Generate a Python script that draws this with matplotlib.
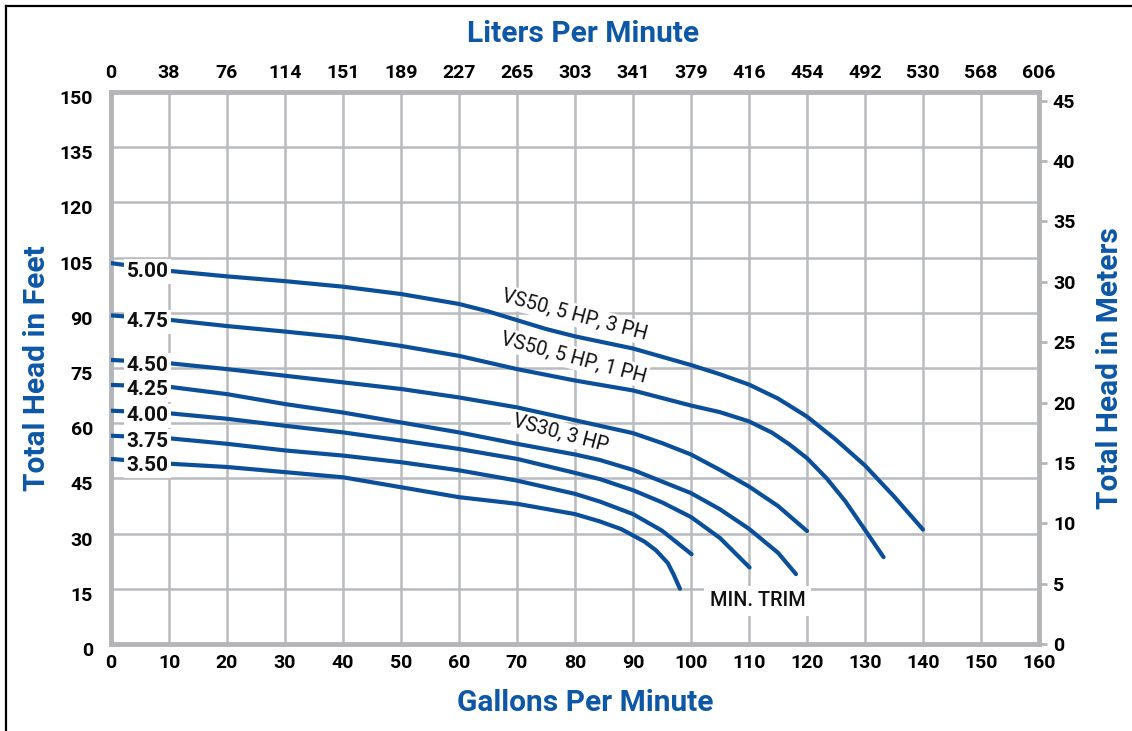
import matplotlib.pyplot as plt
import matplotlib.transforms as mtransforms
from matplotlib.lines import Line2D
import numpy as np

plt.rcParams['font.family'] = ['Roboto', 'DejaVu Sans']

# impeller trim curves, gpm vs total head (ft)
gpm_500 = [0, 10, 20, 30, 40, 50, 60, 65, 70, 75, 80, 90, 100, 105, 110, 115, 120, 125, 130, 135, 140]
head_500 = [103.5, 101.4, 99.9, 98.6, 97.1, 95.1, 92.4, 90.4, 88.0, 85.6, 83.6, 80.3, 75.8, 73.3, 70.5, 66.7, 61.8, 55.5, 48.5, 40.1, 31.1]

gpm_475 = [0, 10, 20, 30, 40, 50, 60, 70, 80, 90, 100, 105, 110, 114, 117, 120, 123.4, 126.6, 130, 133.2]
head_475 = [89.3, 88.1, 86.4, 84.9, 83.3, 81.0, 78.3, 74.7, 71.6, 68.9, 64.8, 63.0, 60.5, 57.4, 54.2, 50.5, 45.0, 38.8, 31.0, 23.6]

gpm_450 = [0, 10, 20, 30, 40, 50, 60, 70, 80, 90, 95, 100, 105, 110, 115, 120]
head_450 = [77.2, 76.3, 74.7, 72.9, 71.1, 69.3, 67.0, 64.3, 60.8, 57.3, 54.6, 51.5, 47.3, 42.8, 37.5, 30.7]

gpm_425 = [0, 10, 20, 30, 40, 50, 60, 70, 80, 84.3, 90, 100, 105, 110, 115, 118.1]
head_425 = [70.4, 69.9, 67.9, 65.2, 62.9, 60.2, 57.5, 54.4, 51.5, 50.0, 47.3, 41.0, 36.6, 31.3, 24.8, 19.0]

gpm_400 = [0, 10, 20, 30, 40, 50, 60, 70, 80, 84.3, 90, 95, 100, 105, 110.1]
head_400 = [63.4, 62.7, 61.2, 59.3, 57.5, 55.3, 53.0, 50.3, 46.5, 44.8, 41.8, 38.5, 34.5, 28.8, 20.8]

gpm_375 = [0, 10, 20, 30, 40, 50, 60, 70, 80, 84.3, 90, 95, 100.1]
head_375 = [56.6, 55.9, 54.4, 52.6, 51.2, 49.4, 47.2, 44.4, 40.8, 38.7, 35.3, 30.8, 24.4]

gpm_350 = [0, 10, 20, 30, 40, 50, 60, 70, 80, 84.3, 88, 92, 94, 96, 97, 98.1]
head_350 = [50.3, 49.0, 48.1, 46.7, 45.3, 42.6, 39.9, 38.1, 35.3, 33.3, 31.2, 27.8, 25.4, 22.0, 18.9, 15.0]

trim_labels = ['5.00', '4.75', '4.50', '4.25', '4.00', '3.75', '3.50']
curves = [(gpm_500, head_500), (gpm_475, head_475), (gpm_450, head_450),
          (gpm_425, head_425), (gpm_400, head_400), (gpm_375, head_375),
          (gpm_350, head_350)]

gpm_ticks = list(range(0, 161, 10))
lpm_labels = ['0', '38', '76', '114', '151', '189', '227', '265', '303', '341',
              '379', '416', '454', '492', '530', '568', '606']
feet_ticks = list(range(0, 151, 15))
meter_ticks = list(range(0, 46, 5))

model_labels = ['VS50, 5 HP, 3 PH', 'VS50, 5 HP, 1 PH', 'VS30, 3 HP']
model_pos = [(80.0, 89.4), (79.7, 77.8), (77.6, 57.2)]

blue = '#0b4f9a'
title_blue = '#0d57a6'
grid_gray = '#b9bbbe'

W, H = 1132, 731
fig = plt.figure(figsize=(W / 100, H / 100), dpi=100)
ax = fig.add_axes([111 / W, 87 / H, 928 / W, 552 / H])

for (x, y) in curves:
    ax.plot(x, y, color=blue, lw=3.0, solid_capstyle='round', solid_joinstyle='round', zorder=3)

for lab, (x, y) in zip(trim_labels, curves):
    ly = np.interp(6.3, x, y) - 1.0
    ax.text(6.3, ly, lab, ha='center', va='center', fontsize=15, fontweight='bold',
            color='#111111', zorder=5,
            bbox=dict(facecolor='white', edgecolor='none', pad=2))

for lab, (px, py) in zip(model_labels, model_pos):
    ax.text(px, py, lab, ha='center', va='center', rotation=-15, rotation_mode='anchor',
            fontsize=14.3, color='#111111', zorder=5,
            bbox=dict(facecolor='white', edgecolor='none', pad=1.5))

ax.text(111.5, 11.7, 'MIN. TRIM', ha='center', va='center', fontsize=14.3, fontweight='medium',
        color='#111111', zorder=5,
        bbox=dict(facecolor='white', edgecolor='none', pad=4))

ax.set_xlim(0, 160)
ax.set_ylim(0, 150)
ax.set_xticks(gpm_ticks)
ax.set_yticks(feet_ticks)
ax.grid(True, color=grid_gray, lw=1.8, zorder=1)
ax.set_axisbelow(True)
for s in ax.spines.values():
    s.set_color('#b3b5b8')
    s.set_linewidth(3.5)
ax.tick_params(axis='x', length=0, pad=7, labelsize=14)
ax.tick_params(axis='y', length=0, pad=13, labelsize=14)
for t in ax.get_xticklabels() + ax.get_yticklabels():
    t.set_fontweight('bold')
# left labels sit a bit under the gridline
off = mtransforms.ScaledTranslation(0, -0.05, fig.dpi_scale_trans)
for t in ax.get_yticklabels():
    t.set_transform(t.get_transform() + off)

# top axis: liters per minute
axt = ax.twiny()
axt.set_xlim(0, 160)
axt.set_xticks(gpm_ticks)
axt.set_xticklabels(lpm_labels)
axt.tick_params(axis='x', length=0, pad=7, labelsize=14)
for t in axt.get_xticklabels():
    t.set_fontweight('bold')

# right axis: meters
axr = ax.twinx()
axr.set_ylim(0, 150 / 3.28084)
axr.set_yticks(meter_ticks)
axr.tick_params(axis='y', length=6, width=2, color='#b3b5b8', pad=4, labelsize=14)
for t in axr.get_yticklabels():
    t.set_fontweight('bold')
for a in (axt, axr):
    for s in a.spines.values():
        s.set_visible(False)

fig.text(583 / W, 1 - 34 / H, 'Liters Per Minute', ha='center', va='center',
         fontsize=21.5, fontweight='bold', color=title_blue)
fig.text(585 / W, 1 - 703 / H, 'Gallons Per Minute', ha='center', va='center',
         fontsize=21.5, fontweight='bold', color=title_blue)
fig.text(37 / W, 1 - 368 / H, 'Total Head in Feet', ha='center', va='center', rotation=90,
         fontsize=21.5, fontweight='bold', color=title_blue)
fig.text(1110 / W, 1 - 368 / H, 'Total Head in Meters', ha='center', va='center', rotation=90,
         fontsize=21.5, fontweight='bold', color=title_blue)

# frame around the chart (left and top edges show)
fig.add_artist(Line2D([6 / W, 6 / W], [0, 1 - 6 / H], transform=fig.transFigure, color='black', lw=1.6))
fig.add_artist(Line2D([6 / W, 1], [1 - 6 / H, 1 - 6 / H], transform=fig.transFigure, color='black', lw=1.6))

fig.savefig('out.png', dpi=100, facecolor='white')
